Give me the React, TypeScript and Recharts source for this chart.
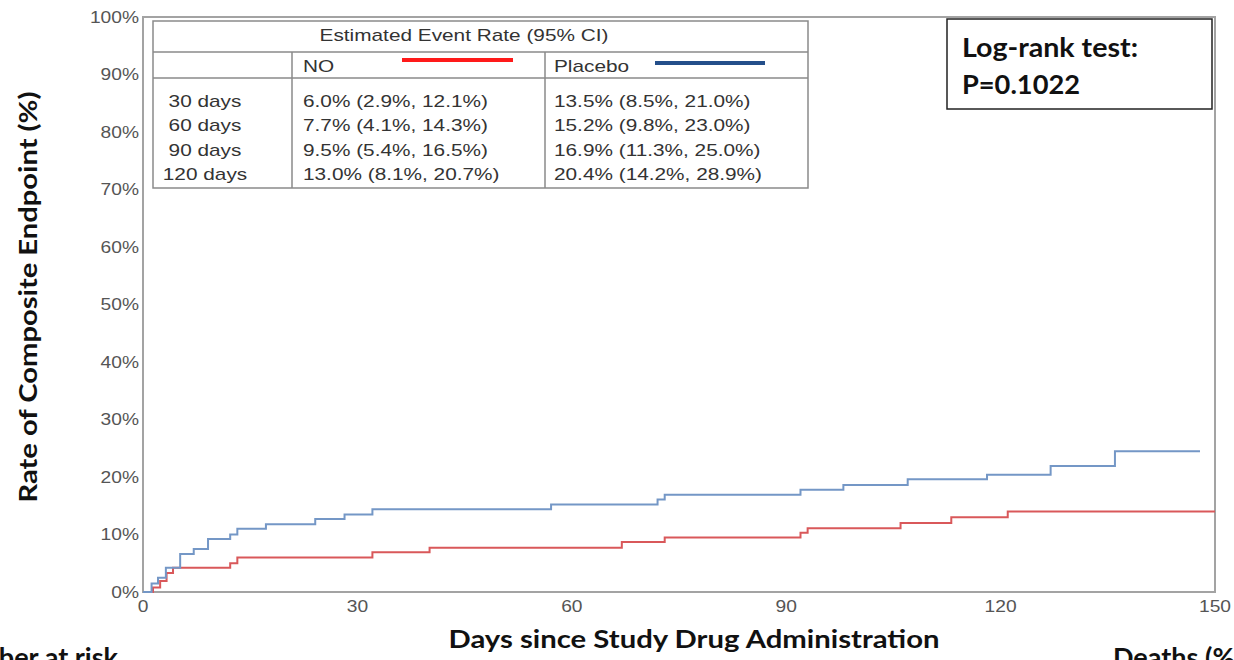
import { LineChart, Line, XAxis, YAxis, ReferenceArea } from "recharts";

// Kaplan-Meier style cumulative event curves (days, % with event)
const noDays = [0, 1.4, 2.4, 3.3, 4.2, 12.2, 13.2, 32.1, 40.1, 67.0, 73.0, 92.0, 93.0, 106.0, 113.1, 121.0, 150];
const noRates = [0, 0.8, 1.9, 3.3, 4.2, 5.0, 6.0, 6.9, 7.7, 8.7, 9.5, 10.3, 11.1, 12.0, 13.0, 14.0, 14.0];

const placeboDays = [0, 1.2, 2.1, 3.2, 5.2, 7.1, 9.1, 12.2, 13.2, 17.2, 24.1, 28.2, 32.1, 57.1, 72.0, 73.0, 92.0, 98.0, 107.0, 118.1, 127.0, 136.0, 147.9];
const placeboRates = [0, 1.5, 2.5, 4.2, 6.6, 7.5, 9.2, 10.0, 11.0, 11.8, 12.7, 13.5, 14.4, 15.2, 16.1, 16.9, 17.8, 18.6, 19.6, 20.4, 21.9, 24.5, 24.5];

const xTicks = [0, 30, 60, 90, 120, 150];
const yTicks = [0, 10, 20, 30, 40, 50, 60, 70, 80, 90, 100];

// estimated event rate table
const timepoints = ["30 days", "60 days", "90 days", "120 days"];
const noEstimate = [6.0, 7.7, 9.5, 13.0];
const noLower = [2.9, 4.1, 5.4, 8.1];
const noUpper = [12.1, 14.3, 16.5, 20.7];
const placeboEstimate = [13.5, 15.2, 16.9, 20.4];
const placeboLower = [8.5, 9.8, 11.3, 14.2];
const placeboUpper = [21.0, 23.0, 25.0, 28.9];

const noData = noDays.map((day, i) => ({ day, rate: noRates[i] }));
const placeboData = placeboDays.map((day, i) => ({ day, rate: placeboRates[i] }));

const RED = "#d9585a";
const BLUE = "#7497c6";
const SX = 1.3; // the stats-package text is a bit wide
const ARIAL = "'Liberation Sans', Arial, sans-serif";
const LATO = "Lato, 'Open Sans', sans-serif";

const pct = (v: number) => `${v.toFixed(1)}%`;
const ci = (e: number, lo: number, hi: number) => `${pct(e)} (${pct(lo)}, ${pct(hi)})`;

function Wide({ x, y, anchor = "start", size = 16, fill = "#333", children }: any) {
  return (
    <g transform={`translate(${x},${y}) scale(${SX},1)`}>
      <text textAnchor={anchor} fontSize={size} fill={fill} fontFamily={ARIAL}>
        {children}
      </text>
    </g>
  );
}

function YTick({ x, y, payload }: any) {
  return (
    <g transform={`translate(${x},${y}) scale(1.2,1)`}>
      <text textAnchor="end" dy="0.36em" fontSize={16} fill="#555" fontFamily={ARIAL}>
        {payload.value}%
      </text>
    </g>
  );
}

function XTick({ x, y, payload }: any) {
  return (
    <g transform={`translate(${x},${y}) scale(1.2,1)`}>
      <text textAnchor="middle" dy="0.71em" fontSize={16} fill="#555" fontFamily={ARIAL}>
        {payload.value}
      </text>
    </g>
  );
}

export default function App() {
  const rowY = (i: number) => 107 + i * 24.3;
  return (
    <div style={{ position: "absolute", left: 0, top: 0, width: 1234, height: 660, background: "#fff", overflow: "hidden" }}>
      <LineChart width={1234} height={660} margin={{ top: 17, right: 19, bottom: 0, left: 0 }}>
        <XAxis
          dataKey="day"
          type="number"
          domain={[0, 150]}
          ticks={xTicks}
          height={68}
          axisLine={false}
          tickLine={false}
          tickSize={4}
          tickMargin={5}
          tick={<XTick />}
          allowDuplicatedCategory={false}
        />
        <YAxis
          type="number"
          domain={[0, 100]}
          ticks={yTicks}
          width={143}
          axisLine={false}
          tickLine={false}
          tickSize={4}
          tickMargin={0}
          interval={0}
          tick={<YTick />}
        />
        <ReferenceArea x1={0} x2={150} y1={0} y2={100} fill="none" stroke="#a3a3a3" strokeWidth={2} />
        <Line data={noData} dataKey="rate" type="stepAfter" stroke={RED} strokeWidth={2} dot={false} isAnimationActive={false} />
        <Line data={placeboData} dataKey="rate" type="stepAfter" stroke={BLUE} strokeWidth={2} dot={false} isAnimationActive={false} />
      </LineChart>

      <svg width={1234} height={660} style={{ position: "absolute", left: 0, top: 0, pointerEvents: "none" }}>
        {/* event rate table */}
        <rect x={153} y={21} width={655} height={167} fill="#fff" stroke="#8a8a8a" strokeWidth={1.5} />
        <line x1={153} x2={808} y1={52} y2={52} stroke="#8a8a8a" strokeWidth={1.5} />
        <line x1={153} x2={808} y1={78} y2={78} stroke="#8a8a8a" strokeWidth={1.5} />
        <line x1={292} x2={292} y1={52} y2={188} stroke="#8a8a8a" strokeWidth={1.5} />
        <line x1={545} x2={545} y1={52} y2={188} stroke="#8a8a8a" strokeWidth={1.5} />
        <Wide x={464} y={41} anchor="middle">Estimated Event Rate (95% CI)</Wide>
        <Wide x={303} y={72}>NO</Wide>
        <Wide x={554} y={72}>Placebo</Wide>
        <line x1={402} x2={513} y1={60} y2={60} stroke="#ff1a1a" strokeWidth={4} />
        <line x1={655} x2={765} y1={63} y2={63} stroke="#244f8a" strokeWidth={4} />
        {timepoints.map((t, i) => (
          <g key={t}>
            <Wide x={205} y={rowY(i)} anchor="middle">{t}</Wide>
            <Wide x={303} y={rowY(i)}>{ci(noEstimate[i], noLower[i], noUpper[i])}</Wide>
            <Wide x={554} y={rowY(i)}>{ci(placeboEstimate[i], placeboLower[i], placeboUpper[i])}</Wide>
          </g>
        ))}

        {/* log-rank box */}
        <rect x={947} y={19} width={265} height={90} fill="#fff" stroke="#222" strokeWidth={1.5} />
        <text x={962} y={57} fontSize={27} fontWeight={700} fontFamily={LATO} fill="#111" textLength={176} lengthAdjust="spacingAndGlyphs">
          Log-rank test:
        </text>
        <text x={962} y={94} fontSize={27} fontWeight={700} fontFamily={LATO} fill="#111" textLength={118} lengthAdjust="spacingAndGlyphs">
          P=0.1022
        </text>

        {/* axis titles */}
        <text
          transform="translate(37,297) rotate(-90)"
          textAnchor="middle"
          fontSize={25}
          fontWeight={700}
          fontFamily={LATO}
          fill="#111"
          textLength={411}
          lengthAdjust="spacingAndGlyphs"
        >
          Rate of Composite Endpoint (%)
        </text>
        <text
          x={694}
          y={648}
          textAnchor="middle"
          fontSize={25}
          fontWeight={700}
          fontFamily={LATO}
          fill="#111"
          textLength={491}
          lengthAdjust="spacingAndGlyphs"
        >
          Days since Study Drug Administration
        </text>
        <text x={118} y={667} textAnchor="end" fontSize={27} fontWeight={700} fontFamily={LATO} fill="#111">Number at risk</text>
        <text x={1113} y={667} fontSize={27} fontWeight={700} fontFamily={LATO} fill="#111">Deaths (%)</text>
      </svg>
    </div>
  );
}
